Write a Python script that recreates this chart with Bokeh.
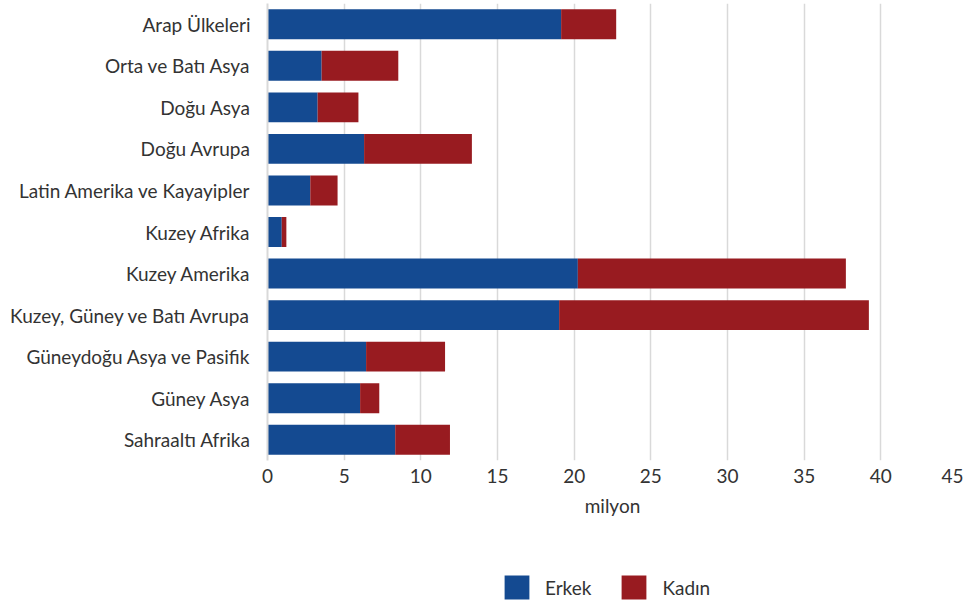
from bokeh.plotting import figure
from bokeh.models import Legend, LegendItem, ColumnDataSource, FixedTicker
from bokeh.layouts import column
from bokeh.embed import file_html
from bokeh.resources import INLINE

regions = ["Arap Ülkeleri", "Orta ve Batı Asya", "Doğu Asya", "Doğu Avrupa",
           "Latin Amerika ve Kayayipler", "Kuzey Afrika", "Kuzey Amerika",
           "Kuzey, Güney ve Batı Avrupa", "Güneydoğu Asya ve Pasifik",
           "Güney Asya", "Sahraaltı Afrika"]
erkek = [19.15, 3.53, 3.27, 6.30, 2.79, 0.93, 20.24, 19.02, 6.43, 6.04, 8.33]
kadin = [3.59, 5.00, 2.66, 7.03, 1.78, 0.30, 17.48, 20.20, 5.15, 1.25, 3.57]
x_ticks = [0, 5, 10, 15, 20, 25, 30, 35, 40, 45]
series = ["Erkek", "Kadin"]
series_labels = ["Erkek", "Kadın"]

BLUE = "#144a91"
RED = "#981b20"
FONT = "Lato"
TXT = "#333333"
FS = "19px"

src = ColumnDataSource(dict(region=regions, Erkek=erkek, Kadin=kadin))

p = figure(width=963, height=520, y_range=list(reversed(regions)),
           x_range=(0, 45), output_backend="svg", toolbar_location=None,
           min_border_left=267, min_border_right=6, min_border_top=3,
           min_border_bottom=60)
p.outline_line_color = None

p.hbar_stack(series, y="region", height=0.72, color=[BLUE, RED],
             source=src, line_width=0)

p.xaxis.ticker = FixedTicker(ticks=x_ticks)
p.xaxis.axis_label = "milyon"
p.xaxis.axis_label_text_font = FONT
p.xaxis.axis_label_text_font_style = "normal"
p.xaxis.axis_label_text_font_size = FS
p.xaxis.axis_label_text_color = TXT
p.xaxis.axis_label_standoff = 8
p.xaxis.major_label_text_font = FONT
p.xaxis.major_label_text_font_size = FS
p.xaxis.major_label_text_color = TXT
p.xaxis.major_label_standoff = 2
p.xaxis.axis_line_color = None
p.xaxis.major_tick_line_color = None
p.xaxis.minor_tick_line_color = None

p.yaxis.major_label_text_font = FONT
p.yaxis.major_label_text_font_size = FS
p.yaxis.major_label_text_color = TXT
p.yaxis.major_label_standoff = 11
p.yaxis.axis_line_color = "#d9d9d9"
p.yaxis.axis_line_width = 2
p.yaxis.major_tick_line_color = None
p.yaxis.minor_tick_line_color = None

p.ygrid.grid_line_color = None
p.xgrid.grid_line_color = "#d9d9d9"
p.xgrid.grid_line_width = 1.5

# legend strip below the chart (swatch renderers hidden, legend only)
lg = figure(width=963, height=84, y_range=list(reversed(regions)),
            x_range=(0, 45), output_backend="svg",
            toolbar_location=None, x_axis_location=None, y_axis_location=None,
            min_border_left=267, min_border_right=6, min_border_top=0,
            min_border_bottom=0)
lg.outline_line_color = None
lg.xgrid.visible = False
lg.ygrid.visible = False
lrs = lg.hbar_stack(series, y="region", height=0.72, color=[BLUE, RED],
                    source=src, line_width=0)
for r in lrs:
    r.visible = False

legend = Legend(items=[LegendItem(label=series_labels[0], renderers=[lrs[0]]),
                       LegendItem(label=series_labels[1], renderers=[lrs[1]])],
                orientation="horizontal", location=(234, 2),
                glyph_width=31, glyph_height=30, label_standoff=13, spacing=27,
                label_text_font=FONT, label_text_font_size=FS,
                label_text_color=TXT, border_line_color=None,
                background_fill_alpha=0, margin=0, padding=0,
                click_policy="none")
lg.add_layout(legend, "center")

layout = column(p, lg, spacing=0)
open("out.html", "w").write(file_html(layout, INLINE))
